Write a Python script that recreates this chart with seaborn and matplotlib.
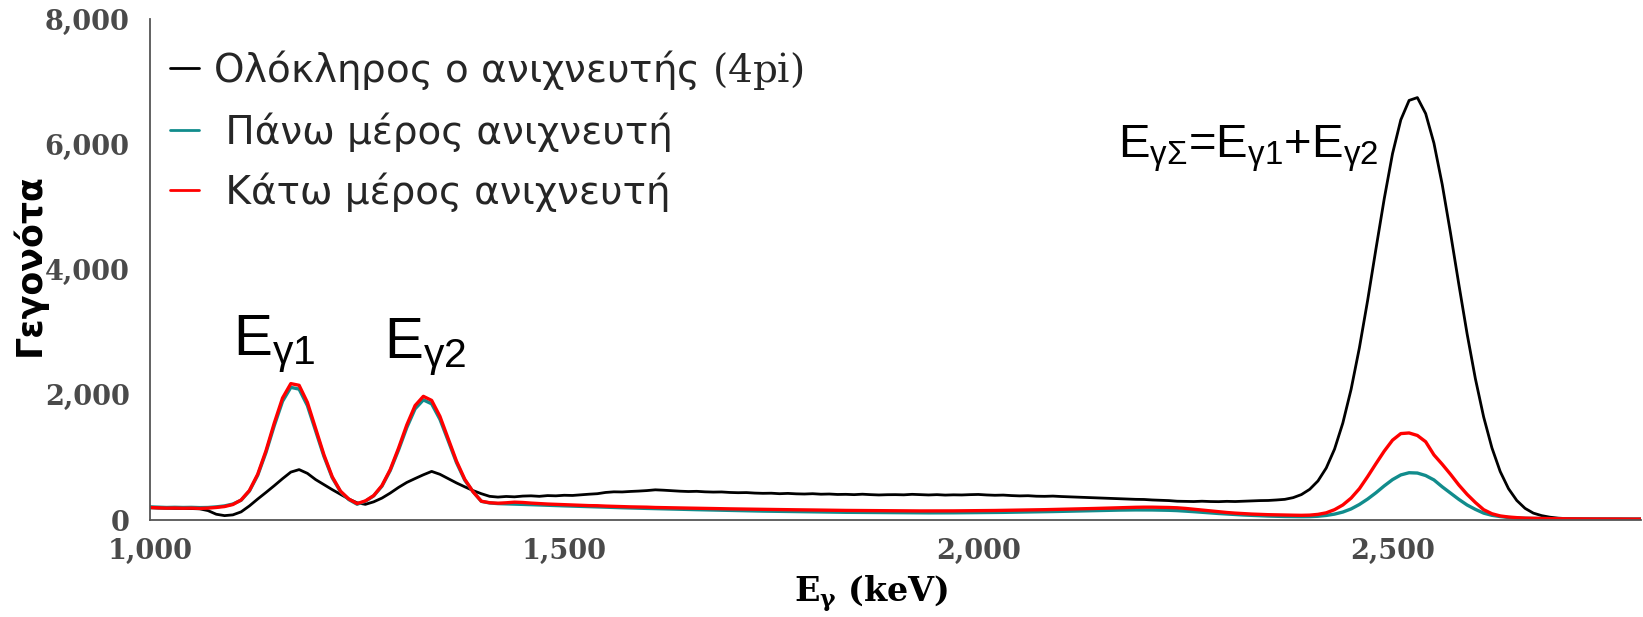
import numpy as np
import pandas as pd
import seaborn as sns
import matplotlib
matplotlib.use("Agg")
import matplotlib.pyplot as plt
from matplotlib.ticker import MultipleLocator, FuncFormatter

# ---------------- data ----------------
energy_keV = np.arange(1000, 2801, 10)   # channel grid, 10 keV bins

total_4pi = [
    195, 190, 188, 186, 185, 183, 178, 150, 92, 70,
    82, 130, 225, 335, 440, 548, 660, 765, 805, 745,
    645, 565, 485, 410, 335, 275, 250, 290, 350, 430,
    520, 600, 662, 722, 776, 730, 660, 592, 530, 470,
    420, 378, 366, 376, 370, 382, 386, 378, 390, 386,
    395, 392, 402, 412, 420, 440, 450, 448, 456, 462,
    470, 482, 476, 468, 460, 455, 458, 450, 446, 448,
    440, 436, 438, 430, 426, 428, 420, 425, 418, 415,
    420, 412, 415, 408, 410, 405, 412, 405, 400, 404,
    405, 402, 410, 405, 400, 405, 398, 402, 400, 405,
    408, 400, 395, 398, 390, 385, 388, 380, 378, 382,
    375, 370, 365, 360, 355, 350, 345, 340, 335, 330,
    328, 320, 315, 310, 300, 298, 295, 300, 295, 293,
    298, 295, 300, 305, 310, 312, 320, 330, 357, 406,
    490, 624, 831, 1132, 1548, 2087, 2750, 3510, 4330, 5130,
    5850, 6390, 6700, 6745, 6490, 6017, 5358, 4582, 3767, 2975,
    2258, 1646, 1152, 774, 501, 312, 186, 110, 70, 45,
    30, 22, 16, 12, 10, 8, 6, 5, 5, 4,
    4,
]

top_part = [
    210, 205, 200, 203, 200, 202, 198, 200, 210, 225,
    255, 316, 463, 714, 1078, 1507, 1896, 2118, 2090, 1827,
    1420, 1015, 675, 452, 326, 252, 300, 385, 540, 790,
    1117, 1476, 1775, 1918, 1855, 1608, 1265, 916, 636, 452,
    298, 272, 262, 258, 255, 250, 245, 240, 235, 230,
    226, 222, 218, 214, 210, 205, 200, 196, 192, 188,
    185, 182, 178, 175, 172, 168, 165, 162, 158, 155,
    152, 150, 147, 145, 142, 140, 138, 136, 134, 132,
    130, 128, 126, 125, 123, 122, 120, 119, 118, 117,
    116, 115, 115, 114, 114, 114, 115, 115, 116, 117,
    118, 119, 120, 122, 124, 126, 128, 130, 132, 135,
    138, 141, 144, 147, 150, 153, 156, 158, 160, 161,
    161, 160, 158, 155, 150, 142, 133, 123, 113, 104,
    96, 88, 80, 74, 68, 63, 59, 56, 54, 53,
    54, 60, 73, 94, 127, 177, 248, 335, 435, 545,
    645, 720, 755, 750, 710, 640, 530, 430, 330, 240,
    170, 110, 75, 55, 40, 32, 28, 25, 23, 22,
    21, 20, 20, 19, 19, 18, 18, 18, 17, 17,
    17,
]

bottom_part = [
    200, 195, 190, 192, 188, 190, 185, 190, 200, 215,
    247, 320, 471, 730, 1105, 1547, 1948, 2178, 2151, 1878,
    1458, 1040, 690, 460, 335, 262, 305, 390, 550, 805,
    1146, 1518, 1827, 1975, 1910, 1655, 1300, 940, 650, 450,
    300, 276, 268, 275, 285, 280, 270, 262, 255, 250,
    245, 240, 236, 230, 228, 222, 218, 215, 210, 208,
    205, 200, 198, 195, 192, 190, 188, 186, 183, 180,
    178, 176, 174, 172, 170, 168, 166, 165, 163, 162,
    160, 158, 157, 155, 153, 152, 150, 149, 148, 147,
    146, 146, 145, 145, 145, 145, 146, 146, 147, 148,
    149, 150, 152, 154, 156, 158, 160, 162, 165, 168,
    170, 173, 176, 180, 184, 188, 192, 196, 200, 203,
    205, 205, 203, 200, 195, 185, 172, 158, 145, 132,
    120, 110, 102, 95, 90, 85, 82, 79, 77, 75,
    78, 90, 115, 165, 240, 350, 500, 694, 900, 1100,
    1275, 1380, 1390, 1350, 1250, 1040, 890, 730, 560, 410,
    280, 165, 100, 65, 48, 38, 30, 27, 24, 22,
    20, 19, 18, 18, 17, 17, 16, 16, 15, 15,
    15,
]

series_labels = [
    r"Ολόκληρος ο ανιχνευτής $\mathrm{(4pi)}$",
    " Πάνω μέρος ανιχνευτή",
    " Κάτω μέρος ανιχνευτή",
]
series_colors = ["black", "#118c8c", "#ff0000"]

x_label = r"$\mathbf{E_{γ}}$ (keV)"
y_label = "Γεγονότα"

# ---------------- style ----------------
sns.set_theme(style="white")
plt.rcParams["font.family"] = ["DejaVu Sans"]
plt.rcParams["mathtext.fontset"] = "custom"
plt.rcParams["mathtext.rm"] = "Liberation Sans"
plt.rcParams["mathtext.it"] = "Liberation Sans"
plt.rcParams["mathtext.bf"] = "Liberation Sans:bold"

df = pd.DataFrame({
    "E": energy_keV,
    "total": total_4pi,
    "top": top_part,
    "bottom": bottom_part,
})

fig = plt.figure(figsize=(16.43, 6.17), dpi=100)
ax = fig.add_axes([0.0913, 0.1572, 0.9075, 0.812])

sns.lineplot(data=df, x="E", y="total", color=series_colors[0], lw=2.0,
             ax=ax, label=series_labels[0])
sns.lineplot(data=df, x="E", y="top", color=series_colors[1], lw=2.4,
             ax=ax, label=series_labels[1])
sns.lineplot(data=df, x="E", y="bottom", color=series_colors[2], lw=2.4,
             ax=ax, label=series_labels[2])

ax.set_xlim(1000, 2800)
ax.set_ylim(0, 8000)

for s in ["top", "right"]:
    ax.spines[s].set_visible(False)
for s in ["left", "bottom"]:
    ax.spines[s].set_color("#555555")
    ax.spines[s].set_linewidth(1.3)

ax.xaxis.set_major_locator(MultipleLocator(500))
ax.xaxis.set_minor_locator(MultipleLocator(100))
ax.yaxis.set_major_locator(MultipleLocator(2000))
ax.yaxis.set_minor_locator(MultipleLocator(500))
fmt = FuncFormatter(lambda v, p: f"{int(v):,}")
ax.xaxis.set_major_formatter(fmt)
ax.yaxis.set_major_formatter(fmt)

ax.tick_params(axis="both", which="major", direction="out", length=8.6,
               width=1.3, color="#555555", labelsize=19.5,
               labelcolor="#4a4a4a")
ax.tick_params(axis="x", which="major", pad=4)
ax.tick_params(axis="y", which="major", pad=6)
ax.tick_params(axis="both", which="minor", direction="out", length=5,
               width=1.3, color="#555555")
for lab in ax.get_xticklabels() + ax.get_yticklabels():
    lab.set_fontfamily("DejaVu Serif")
    lab.set_fontweight("bold")

ax.set_xlabel(x_label, fontsize=24, fontweight="bold", family="DejaVu Serif",
              color="black", math_fontfamily="dejavuserif")
ax.xaxis.set_label_coords(0.484, -0.106)
ax.set_ylabel(y_label, fontsize=25, fontweight="bold", family="DejaVu Sans",
              color="black")
ax.yaxis.set_label_coords(-0.069, 0.51)

leg = ax.legend(loc="upper left", bbox_to_anchor=(0.0134, 0.942),
                frameon=False, fontsize=28, handlelength=0.75,
                handletextpad=0.35, labelspacing=0.52, borderpad=0,
                borderaxespad=0)
for line in leg.get_lines():
    line.set_linewidth(2.0)
leg.get_texts()[0].set_math_fontfamily("dejavuserif")

# peak annotations
ax.text(1100, 2636, r"$\mathrm{E_{γ1}}$", fontsize=42, color="black",
        ha="left", va="baseline")
ax.text(1283, 2588, r"$\mathrm{E_{γ2}}$", fontsize=42, color="black",
        ha="left", va="baseline")
ax.text(2168, 5783,
        r"$\mathrm{E_{γΣ}}$=$\mathrm{E_{γ1}}$+$\mathrm{E_{γ2}}$",
        fontsize=34, family="Liberation Sans", color="black",
        ha="left", va="baseline")

fig.savefig("out.png", dpi=100, facecolor="white")
